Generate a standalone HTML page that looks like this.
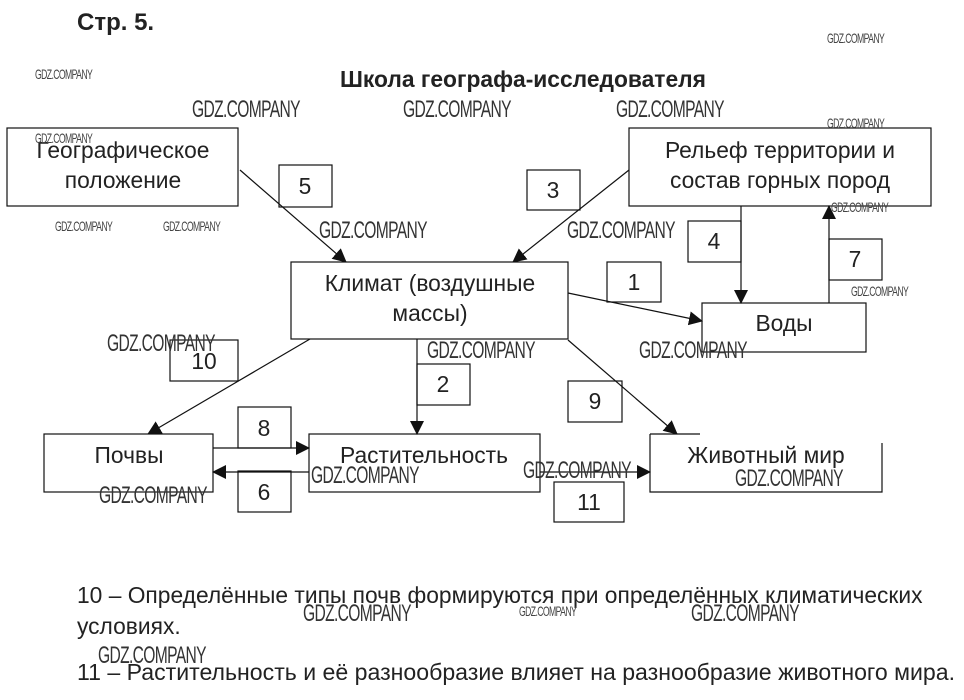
<!DOCTYPE html>
<html><head><meta charset="utf-8"><style>
body{margin:0;width:964px;height:700px;background:#fff;overflow:hidden;position:relative;font-family:"Liberation Sans",sans-serif;color:#222}
.t{position:absolute;white-space:nowrap}
.w{position:absolute;white-space:nowrap;font-family:"Liberation Sans Narrow","Liberation Sans",sans-serif;color:#333;font-size:24px;transform:scaleX(.65);transform-origin:left top;letter-spacing:-1px}
.ws{font-size:14px;color:#444;transform:scaleX(.62)}
</style></head><body>
<svg width="964" height="700" style="position:absolute;left:0;top:0" font-family="Liberation Sans, sans-serif">
<defs><marker id="b" markerWidth="14" markerHeight="14" refX="13" refY="7" orient="auto" markerUnits="userSpaceOnUse"><path d="M0,0 L14,7 L0,14 z" fill="#111"/></marker></defs>
<g fill="none" stroke="#111" stroke-width="1.2">
<rect x="7" y="128" width="231" height="78"/>
<rect x="629" y="128" width="302" height="78"/>
<rect x="291" y="262" width="277" height="77"/>
<rect x="702" y="303" width="164" height="49"/>
<rect x="44" y="434" width="169" height="58"/>
<rect x="309" y="434" width="231" height="58"/>
<path d="M650,434 H700 M650,434 V492 H882 V443"/>
<rect x="279" y="165" width="53" height="42"/>
<rect x="527" y="170" width="53" height="40"/>
<rect x="688" y="221" width="53" height="41"/>
<rect x="607" y="262" width="54" height="40"/>
<rect x="829" y="239" width="53" height="41"/>
<rect x="170" y="340" width="68" height="41"/>
<rect x="417" y="364" width="53" height="41"/>
<rect x="238" y="407" width="53" height="41"/>
<rect x="238" y="471" width="53" height="41"/>
<rect x="568" y="381" width="54" height="41"/>
<rect x="554" y="482" width="70" height="40"/>
<line x1="240" y1="170" x2="346" y2="262" marker-end="url(#b)"/>
<line x1="629" y1="170" x2="513" y2="262" marker-end="url(#b)"/>
<line x1="741" y1="206" x2="741" y2="303" marker-end="url(#b)"/>
<line x1="829" y1="303" x2="829" y2="206" marker-end="url(#b)"/>
<line x1="568" y1="293" x2="702" y2="321" marker-end="url(#b)"/>
<line x1="310" y1="339" x2="148" y2="434" marker-end="url(#b)"/>
<line x1="417" y1="339" x2="417" y2="434" marker-end="url(#b)"/>
<line x1="568" y1="340" x2="677" y2="434" marker-end="url(#b)"/>
<line x1="213" y1="448" x2="309" y2="448" marker-end="url(#b)"/>
<line x1="309" y1="472" x2="213" y2="472" marker-end="url(#b)"/>
<line x1="540" y1="472" x2="650" y2="472" marker-end="url(#b)"/>
</g>
<g font-size="22.8" fill="#222" text-anchor="middle">
<text x="123" y="158">Географическое</text><text x="123" y="188">положение</text>
<text x="780" y="158">Рельеф территории и</text><text x="780" y="188">состав горных пород</text>
<text x="430" y="291">Климат (воздушные</text><text x="430" y="321">массы)</text>
<text x="784" y="331">Воды</text>
<text x="129" y="463">Почвы</text>
<text x="424" y="463">Растительность</text>
<text x="766" y="463">Животный мир</text>
<text x="305" y="194">5</text><text x="553" y="198">3</text><text x="714" y="249">4</text>
<text x="634" y="290">1</text><text x="855" y="267">7</text><text x="204" y="369">10</text>
<text x="443" y="392">2</text><text x="264" y="436">8</text><text x="264" y="500">6</text>
<text x="595" y="409">9</text><text x="589" y="510">11</text>
</g>
</svg>
<div class="t" style="left:77px;top:9px;font-size:24px;font-weight:bold">Стр. 5.</div>
<div class="t" style="left:340px;top:66px;font-size:22.8px;font-weight:bold">Школа географа-исследователя</div>
<div class="t" style="left:77px;top:580px;font-size:22.8px;line-height:31px">10 – Определённые типы почв формируются при определённых климатических<br>условиях.</div>
<div class="t" style="left:77px;top:659px;font-size:23.1px">11 – Растительность и её разнообразие влияет на разнообразие животного мира.</div>
<div class="w" style="left:192px;top:96px">GDZ.COMPANY</div>
<div class="w" style="left:403px;top:96px">GDZ.COMPANY</div>
<div class="w" style="left:616px;top:96px">GDZ.COMPANY</div>
<div class="w" style="left:319px;top:217px">GDZ.COMPANY</div>
<div class="w" style="left:567px;top:217px">GDZ.COMPANY</div>
<div class="w" style="left:107px;top:330px">GDZ.COMPANY</div>
<div class="w" style="left:427px;top:337px">GDZ.COMPANY</div>
<div class="w" style="left:639px;top:337px">GDZ.COMPANY</div>
<div class="w" style="left:311px;top:462px">GDZ.COMPANY</div>
<div class="w" style="left:523px;top:457px">GDZ.COMPANY</div>
<div class="w" style="left:735px;top:465px">GDZ.COMPANY</div>
<div class="w" style="left:99px;top:482px">GDZ.COMPANY</div>
<div class="w" style="left:303px;top:600px">GDZ.COMPANY</div>
<div class="w" style="left:691px;top:600px">GDZ.COMPANY</div>
<div class="w" style="left:98px;top:642px">GDZ.COMPANY</div>
<div class="w ws" style="left:827px;top:30px">GDZ.COMPANY</div>
<div class="w ws" style="left:35px;top:66px">GDZ.COMPANY</div>
<div class="w ws" style="left:35px;top:130px">GDZ.COMPANY</div>
<div class="w ws" style="left:827px;top:115px">GDZ.COMPANY</div>
<div class="w ws" style="left:831px;top:199px">GDZ.COMPANY</div>
<div class="w ws" style="left:55px;top:218px">GDZ.COMPANY</div>
<div class="w ws" style="left:163px;top:218px">GDZ.COMPANY</div>
<div class="w ws" style="left:851px;top:283px">GDZ.COMPANY</div>
<div class="w ws" style="left:519px;top:603px">GDZ.COMPANY</div>
</body></html>
